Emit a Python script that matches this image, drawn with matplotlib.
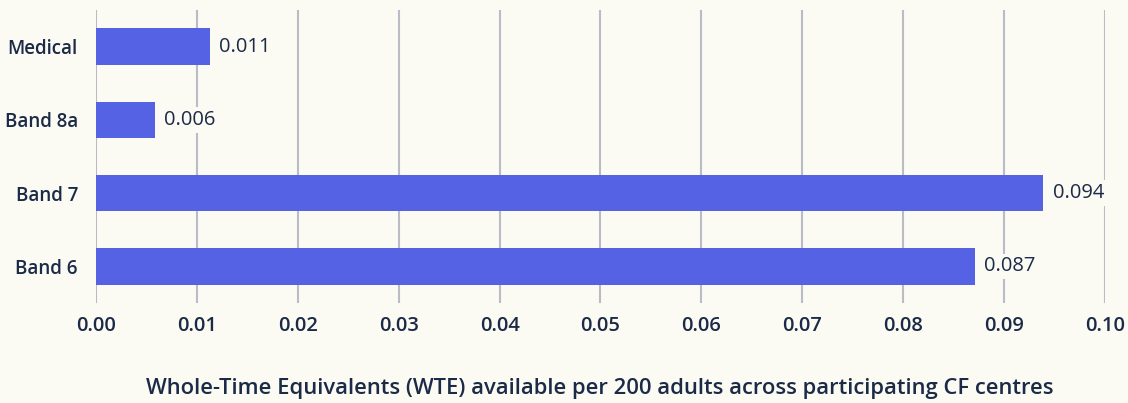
import matplotlib
matplotlib.use("Agg")
import matplotlib.pyplot as plt

categories = ["Medical", "Band 8a", "Band 7", "Band 6"]
values = [0.0113, 0.0058, 0.0939, 0.0871]
xticks = [0.00, 0.01, 0.02, 0.03, 0.04, 0.05, 0.06, 0.07, 0.08, 0.09, 0.10]

bg = "#FBFAF3"
bar_color = "#5462E3"
text_color = "#1B2A47"
grid_color = "#B9BCC7"

plt.rcParams['font.family'] = ['Open Sans', 'DejaVu Sans']

fig = plt.figure(figsize=(11.28, 4.03), dpi=100, facecolor=bg)
ax = fig.add_axes([0.0851, 0.248, 0.8945, 0.727])
ax.set_facecolor(bg)

ypos = list(range(len(categories)))
ax.barh(ypos, values, height=0.5, color=bar_color, zorder=3)
ax.set_ylim(len(categories) - 0.5, -0.5)
ax.set_xlim(0, 0.10)

ax.set_xticks(xticks)
ax.set_xticklabels([f"{t:.2f}" for t in xticks], fontsize=14.5, fontweight='semibold', color=text_color)
ax.set_yticks(ypos)
ax.set_yticklabels(categories, fontsize=13.5, fontweight='semibold', color=text_color)
ax.tick_params(axis='both', length=0, pad=9)
ax.tick_params(axis='y', pad=13)

ax.grid(axis='x', color=grid_color, linewidth=1.5, zorder=0)
ax.grid(axis='y', visible=False)
for s in ax.spines.values():
    s.set_visible(False)

for i, v in enumerate(values):
    ax.text(v + 0.0009, i, f"{v:.3f}", va='center', ha='left', fontsize=14.5,
            color=text_color, zorder=4,
            bbox=dict(facecolor=bg, edgecolor='none', pad=2))

fig.text(0.532, 0.037, "Whole-Time Equivalents (WTE) available per 200 adults across participating CF centres",
         ha='center', va='center', fontsize=15.8, fontweight='semibold', color=text_color)

fig.savefig("out.png", dpi=100, facecolor=bg)
